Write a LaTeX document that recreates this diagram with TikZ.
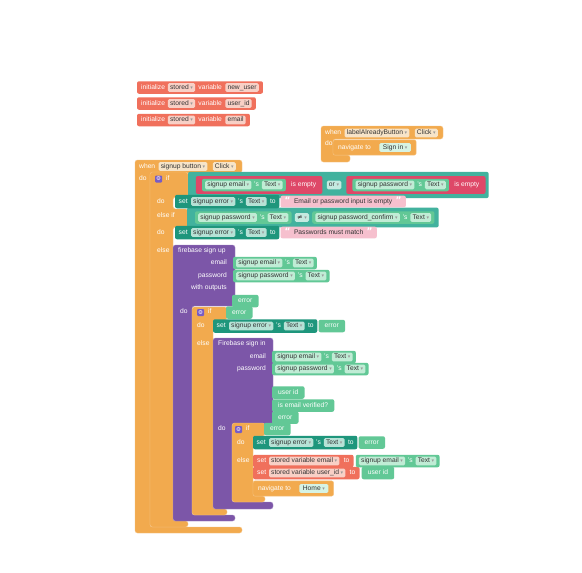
\documentclass[tikz,border=0pt]{standalone}
\usepackage{fontspec}
\setmainfont{Liberation Sans}
\newfontfamily\symfont{DejaVu Sans}
\usetikzlibrary{positioning, fit}

\definecolor{evorange}{RGB}{242,170,78}
\definecolor{orfield}{RGB}{247,228,200}
\definecolor{fbpurple}{RGB}{124,86,168}
\definecolor{logicteal}{RGB}{66,178,158}
\definecolor{logicfield}{RGB}{196,234,224}
\definecolor{setteal}{RGB}{30,150,124}
\definecolor{setfield}{RGB}{182,226,214}
\definecolor{getgreen}{RGB}{98,200,150}
\definecolor{getfield}{RGB}{192,236,213}
\definecolor{emptyred}{RGB}{222,72,104}
\definecolor{varsalmon}{RGB}{240,112,92}
\definecolor{varfield}{RGB}{248,208,198}
\definecolor{txtpink}{RGB}{246,192,206}
\definecolor{screenmint}{RGB}{214,243,228}
\definecolor{gearpurple}{RGB}{120,92,196}

\pgfdeclarelayer{blocks0}
\pgfdeclarelayer{blocks1}
\pgfdeclarelayer{blocks2}
\pgfdeclarelayer{blocks3}
\pgfsetlayers{blocks0,blocks1,blocks2,blocks3,main}

\newcommand\blkfont{\fontsize{6.7}{8}\selectfont}
\newcommand\ddarrow{\hspace{1.6pt}{\symfont\fontsize{5}{5}\selectfont\textcolor{black!40}{▾}}}

\tikzset{
  lbl/.style={font=\blkfont, text=white, inner sep=0pt, text height=5pt, text depth=1.5pt},
  fld/.style={fill=#1, text=black!80, font=\blkfont, rounded corners=1.5pt, inner xsep=2.2pt, inner ysep=1.2pt, text height=5pt, text depth=1.5pt},
  blk/.style={fill=#1, rounded corners=2pt, inner xsep=3pt, inner ysep=1.6pt},
  cblk/.style={fill=#1, draw=#1!70!white, line width=0.4pt, rounded corners=2.5pt},
  gear/.style={fill=gearpurple, rounded corners=1pt, inner sep=0pt, minimum size=7pt, text=white, font=\symfont\fontsize{5.5}{5.5}\selectfont},
  qt/.style={inner sep=0pt, text=white, font=\symfont\fontsize{9}{9}\selectfont\bfseries, text height=5pt, text depth=1.5pt}
}

% component property getter
\newcommand\getblk[4]{% name, left point, component, property
  \coordinate (#1L) at #2;
  \node[fld=getfield, anchor=west, xshift=3pt] (#1a) at (#1L) {#3\ddarrow};
  \node[lbl, right=2.5pt of #1a] (#1b) {'s};
  \node[fld=getfield, right=2.5pt of #1b] (#1c) {#4\ddarrow};
  \begin{pgfonlayer}{blocks3}
    \node[blk=getgreen, fit=(#1a)(#1c)] (#1) {};
  \end{pgfonlayer}}

% plain value (outputs, local names)
\newcommand\valblk[3]{% name, left point, text
  \coordinate (#1L) at #2;
  \node[lbl, anchor=west, xshift=6pt] (#1t) at (#1L) {#3};
  \begin{pgfonlayer}{blocks3}
    \node[blk=getgreen, fit=(#1t), inner xsep=6pt, inner ysep=2.8pt] (#1) {};
  \end{pgfonlayer}}

\newcommand\emptyblk[3]{% name, left point, component
  \coordinate (#1L) at #2;
  \getblk{#1g}{([xshift=6pt]#1L)}{#3}{Text}
  \node[lbl, right=5pt of #1g] (#1t) {is empty};
  \begin{pgfonlayer}{blocks2}
    \node[blk=emptyred, fit=(#1g)(#1t), inner xsep=6pt, inner ysep=2.5pt] (#1) {};
  \end{pgfonlayer}}

\newcommand\setblk[2]{% name, left point
  \coordinate (#1L) at #2;
  \node[lbl, anchor=west, xshift=3.5pt] (#1s) at (#1L) {set};
  \node[fld=setfield, right=3pt of #1s] (#1a) {signup error\ddarrow};
  \node[lbl, right=2.5pt of #1a] (#1b) {'s};
  \node[fld=setfield, right=2.5pt of #1b] (#1c) {Text\ddarrow};
  \node[lbl, right=3pt of #1c] (#1d) {to};
  \begin{pgfonlayer}{blocks2}
    \node[blk=setteal, fit=(#1s)(#1a)(#1d), inner xsep=3.5pt, inner ysep=2.1pt] (#1) {};
  \end{pgfonlayer}}

\newcommand\textblk[3]{% name, left point, text
  \coordinate (#1L) at #2;
  \node[qt, anchor=west, xshift=4pt] (#1a) at (#1L) {“};
  \node[lbl, text=black!80, right=3pt of #1a] (#1b) {#3};
  \node[qt, right=3pt of #1b] (#1c) {”};
  \begin{pgfonlayer}{blocks3}
    \node[blk=txtpink, fit=(#1a)(#1b)(#1c), inner xsep=4pt, inner ysep=2.4pt] (#1) {};
  \end{pgfonlayer}}

\newcommand\setvarblk[3]{% name, left point, variable
  \coordinate (#1L) at #2;
  \node[lbl, anchor=west, xshift=4pt] (#1s) at (#1L) {set};
  \node[fld=varfield, right=2.5pt of #1s] (#1a) {#3\ddarrow};
  \node[lbl, right=4pt of #1a] (#1b) {to};
  \begin{pgfonlayer}{blocks2}
    \node[blk=varsalmon, fit=(#1s)(#1a)(#1b), inner xsep=4pt] (#1) {};
  \end{pgfonlayer}}

\newcommand\initblk[3]{% name, left point, variable
  \coordinate (#1L) at #2;
  \node[lbl, anchor=west, xshift=4pt] (#1a) at (#1L) {initialize};
  \node[fld=varfield, right=2.5pt of #1a] (#1b) {stored\ddarrow};
  \node[lbl, right=3pt of #1b] (#1c) {variable};
  \node[fld=varfield, right=3pt of #1c] (#1d) {#3};
  \begin{pgfonlayer}{blocks2}
    \node[blk=varsalmon, fit=(#1a)(#1b)(#1d), inner xsep=4pt] (#1) {};
  \end{pgfonlayer}}

\newcommand\navblk[3]{% name, left point, screen
  \coordinate (#1L) at #2;
  \node[lbl, anchor=west, xshift=5pt] (#1t) at (#1L) {navigate to};
  \node[fld=screenmint, right=8pt of #1t, inner xsep=3.5pt] (#1f) {#3\ddarrow};
  \begin{pgfonlayer}{blocks2}
    \node[blk=evorange, draw=evorange!70!white, line width=0.4pt, fit=(#1t)(#1f), inner xsep=5pt, inner ysep=3pt] (#1) {};
  \end{pgfonlayer}}

\begin{document}
\begin{tikzpicture}[x=1pt, y=-1pt]
  \useasboundingbox (0,0) rectangle (582,573);

  % global variables
  \initblk{iv1}{(137,87.5)}{new\_user}
  \initblk{iv2}{(137,103.5)}{user\_id}
  \initblk{iv3}{(137,120)}{email}

  % C-shaped statement blocks
  \begin{pgfonlayer}{blocks0}
    \fill[white] (0,0) rectangle (582,573);
    \path[cblk=evorange] (321,126) -- (443,126) -- (443,139) -- (333,139) -- (333,155)
      -- (350,155) -- (350,162) -- (321,162) -- cycle;
    \path[cblk=evorange] (135,160) -- (242,160) -- (242,173) -- (150,173) -- (150,527)
      -- (242,527) -- (242,533) -- (135,533) -- cycle;
    \path[cblk=evorange] (150,172) -- (188,172) -- (188,197) -- (173,197) -- (173,209)
      -- (188,209) -- (188,227) -- (173,227) -- (173,521) -- (188,521) -- (188,527)
      -- (150,527) -- cycle;
    \path[cblk=fbpurple] (173,245) -- (235,245) -- (235,306) -- (192,306) -- (192,515)
      -- (235,515) -- (235,521) -- (173,521) -- cycle;
    \path[cblk=evorange] (192,307) -- (227,307) -- (227,320) -- (213,320) -- (213,509)
      -- (227,509) -- (227,515) -- (192,515) -- cycle;
    \path[cblk=fbpurple] (213,338) -- (273,338) -- (273,424) -- (232,424) -- (232,502)
      -- (273,502) -- (273,509) -- (213,509) -- cycle;
    \path[cblk=evorange] (232,423) -- (265,423) -- (265,436) -- (253,436) -- (253,496)
      -- (265,496) -- (265,502) -- (232,502) -- cycle;
  \end{pgfonlayer}

  % when labelAlreadyButton.Click
  \node[lbl, anchor=west] (w2) at (325,133) {when};
  \node[fld=orfield, right=3pt of w2] (lab) {labelAlreadyButton\ddarrow};
  \node[fld=orfield, right=5pt of lab] (clk2) {Click\ddarrow};
  \node[lbl, anchor=west] (do0) at (325,144) {do};
  \navblk{nav1}{(333,147.5)}{Sign in}

  % when signup button.Click
  \node[lbl, anchor=west] (w1) at (139,166.5) {when};
  \node[fld=orfield, right=3pt of w1] (btn) {signup button\ddarrow};
  \node[fld=orfield, right=5pt of btn] (clk1) {Click\ddarrow};
  \node[lbl, anchor=west] (do1) at (139,179) {do};

  % if / else if / else
  \node[gear, anchor=west] (gr1) at (155,179) {⚙};
  \node[lbl, anchor=west] (if1) at (166,179) {if};
  \node[lbl, anchor=west] (do2) at (157,201.5) {do};
  \node[lbl, anchor=west] (elif) at (157,215.5) {else if};
  \node[lbl, anchor=west] (do3) at (157,232.5) {do};
  \node[lbl, anchor=west] (else1) at (157,251) {else};

  \coordinate (orL) at (191,185);
  \emptyblk{r1}{(196,185)}{signup email}
  \node[fld=logicfield, right=4pt of r1] (orf) {or\ddarrow};
  \emptyblk{r2}{([xshift=5pt]orf.east)}{signup password}
  \begin{pgfonlayer}{blocks1}
    \node[blk=logicteal, fit=(orL)(r2), inner ysep=4pt] (or1) {};
  \end{pgfonlayer}

  \setblk{s1}{(175,201.5)}
  \textblk{t1}{([xshift=1pt]s1.east)}{Email or password input is empty}

  \coordinate (cmpL) at (191,217.5);
  \getblk{g3}{(195,217.5)}{signup password}{Text}
  \node[fld=logicfield, right=3pt of g3] (neq) {{\symfont ≠}\ddarrow};
  \getblk{g4}{([xshift=3pt]neq.east)}{signup password\_confirm}{Text}
  \begin{pgfonlayer}{blocks1}
    \node[blk=logicteal, fit=(cmpL)(g4), inner ysep=3.5pt, inner xsep=4pt] (cmp1) {};
  \end{pgfonlayer}

  \setblk{s2}{(175,232.5)}
  \textblk{t2}{([xshift=1pt]s2.east)}{Passwords must match}

  % firebase sign up
  \node[lbl, anchor=west] (fsu) at (178,251) {firebase sign up};
  \node[lbl, anchor=east] (fsu1) at (227,263) {email};
  \node[lbl, anchor=east] (fsu2) at (227,276) {password};
  \node[lbl, anchor=east] (fsu3) at (227,288) {with outputs};
  \getblk{g5}{(233,263)}{signup email}{Text}
  \getblk{g6}{(233,276)}{signup password}{Text}
  \valblk{o1}{(232,301)}{error}
  \node[lbl, anchor=west] (do4) at (180,312) {do};

  \node[gear, anchor=west] (gr2) at (197,312.5) {⚙};
  \node[lbl, anchor=west] (if2) at (208,312) {if};
  \valblk{c1}{(226,312.5)}{error}
  \node[lbl, anchor=west] (do5) at (197,326) {do};
  \setblk{s3}{(213,326)}
  \valblk{v3}{([xshift=1pt]s3.east)}{error}
  \node[lbl, anchor=west] (else2) at (197,344) {else};

  % Firebase sign in
  \node[lbl, anchor=west] (fsi) at (218,344) {Firebase sign in};
  \node[lbl, anchor=east] (fsi1) at (266,357) {email};
  \node[lbl, anchor=east] (fsi2) at (266,369) {password};
  \getblk{g7}{(272,357)}{signup email}{Text}
  \getblk{g8}{(272,369)}{signup password}{Text}
  \valblk{o2}{(272,392.5)}{user id}
  \valblk{o3}{(272,405.5)}{is email verified?}
  \valblk{o4}{(272,417.5)}{error}
  \node[lbl, anchor=west] (do6) at (218,429) {do};

  \node[gear, anchor=west] (gr3) at (235,429.5) {⚙};
  \node[lbl, anchor=west] (if3) at (246,429) {if};
  \valblk{c2}{(264,429)}{error}
  \node[lbl, anchor=west] (do7) at (237,442.5) {do};
  \setblk{s4}{(253,442.5)}
  \valblk{v4}{([xshift=1pt]s4.east)}{error}
  \node[lbl, anchor=west] (else3) at (237,461) {else};
  \setvarblk{sv1}{(253,461)}{stored variable email}
  \getblk{g9}{([xshift=2pt]sv1.east)}{signup email}{Text}
  \setvarblk{sv2}{(253,473)}{stored variable user\_id}
  \valblk{v5}{([xshift=2pt]sv2.east)}{user id}
  \navblk{nav2}{(253,488.5)}{Home}
\end{tikzpicture}
\end{document}
